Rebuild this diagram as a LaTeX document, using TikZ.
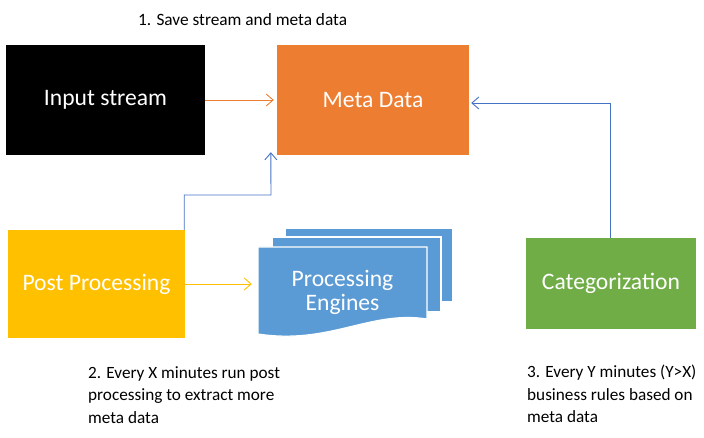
\documentclass[tikz,border=0pt]{standalone}
\usepackage{fontspec}
\setmainfont{Carlito}
\usetikzlibrary{
    arrows.meta,
    calc,
    positioning
}
\definecolor{floworange}{RGB}{237,125,49}
\definecolor{flowgold}{RGB}{255,192,0}
\definecolor{flowgreen}{RGB}{112,173,71}
\definecolor{flowblue}{RGB}{91,155,213}
\definecolor{flowline}{RGB}{68,114,196}
\tikzset{
    % Box styles
    stage box/.style={
        rectangle,
        inner sep=0pt,
        text=white,
        align=center,
        font=\fontsize{23.6}{24}\selectfont
    },
    page/.style={
        fill=flowblue,
        draw=white,
        line width=1.2pt
    },
    % Text styles
    note text/.style={
        inner sep=0pt,
        align=left,
        anchor=north west,
        font=\fontsize{17.2}{22.6}\selectfont
    },
    % Arrow styles
    thin arrow/.style={
        -{Straight Barb[length=7pt,width=12pt]},
        line width=0.9pt
    }
}

\begin{document}
\begin{tikzpicture}[x=1pt,y=-1pt]
        \useasboundingbox (0,0) rectangle (704,438);

        % Define boxes
        \node[stage box, fill=black, minimum width=199pt, minimum height=110pt] (input) at (105.5,100) {Input stream};
        \node[stage box, fill=floworange, minimum width=192pt, minimum height=110pt] (meta) at (373,100) {Meta Data};
        \node[stage box, fill=flowgold, minimum width=177pt, minimum height=108pt] (post) at (96.5,284) {Post Processing};
        \node[stage box, fill=flowgreen, minimum width=170pt, minimum height=91pt] (cat) at (611,283.5) {Categorization};

        % Stack of pages
        \draw[page] (285,228) rectangle (453,302);
        \draw[page] (272,237) rectangle (441,312);
        \draw[page] (258,247) -- (427,247) -- (427,319)
            .. controls (370,310) and (330,345) .. (258,334) -- cycle;
        \node[stage box, minimum width=169pt, minimum height=88pt] (engines) at (342.5,292) {Processing\\Engines};

        % Draw arrows
        \coordinate (meta tip) at ($(meta.south west)+(-6,-3)$);
        \coordinate (bend) at (271,195);
        \draw[thin arrow, floworange, shorten >=3pt] (input) -- (meta);
        \draw[thin arrow, flowgold, shorten >=6pt] (post.east) -- (post.east -| engines.west);
        \draw[thin arrow, flowline] ([xshift=-1pt]post.north east) |- (bend) -- (meta tip);
        \draw[thin arrow, flowline, shorten >=2pt] ([xshift=-1pt]cat.north) |- ([yshift=-3pt]meta.east);

        % Annotations
        \node[note text, anchor=west, font=\fontsize{17.3}{18}\selectfont] (save note) at (138,20) {1. Save stream and meta data};
        \node[note text] (post note) at (88,366) {2. Every X minutes run post\\processing to extract more\\meta data};
        \node[note text] (cat note) at (527,365) {3. Every Y minutes (Y>X)\\business rules based on\\meta data};
    \end{tikzpicture}
\end{document}
